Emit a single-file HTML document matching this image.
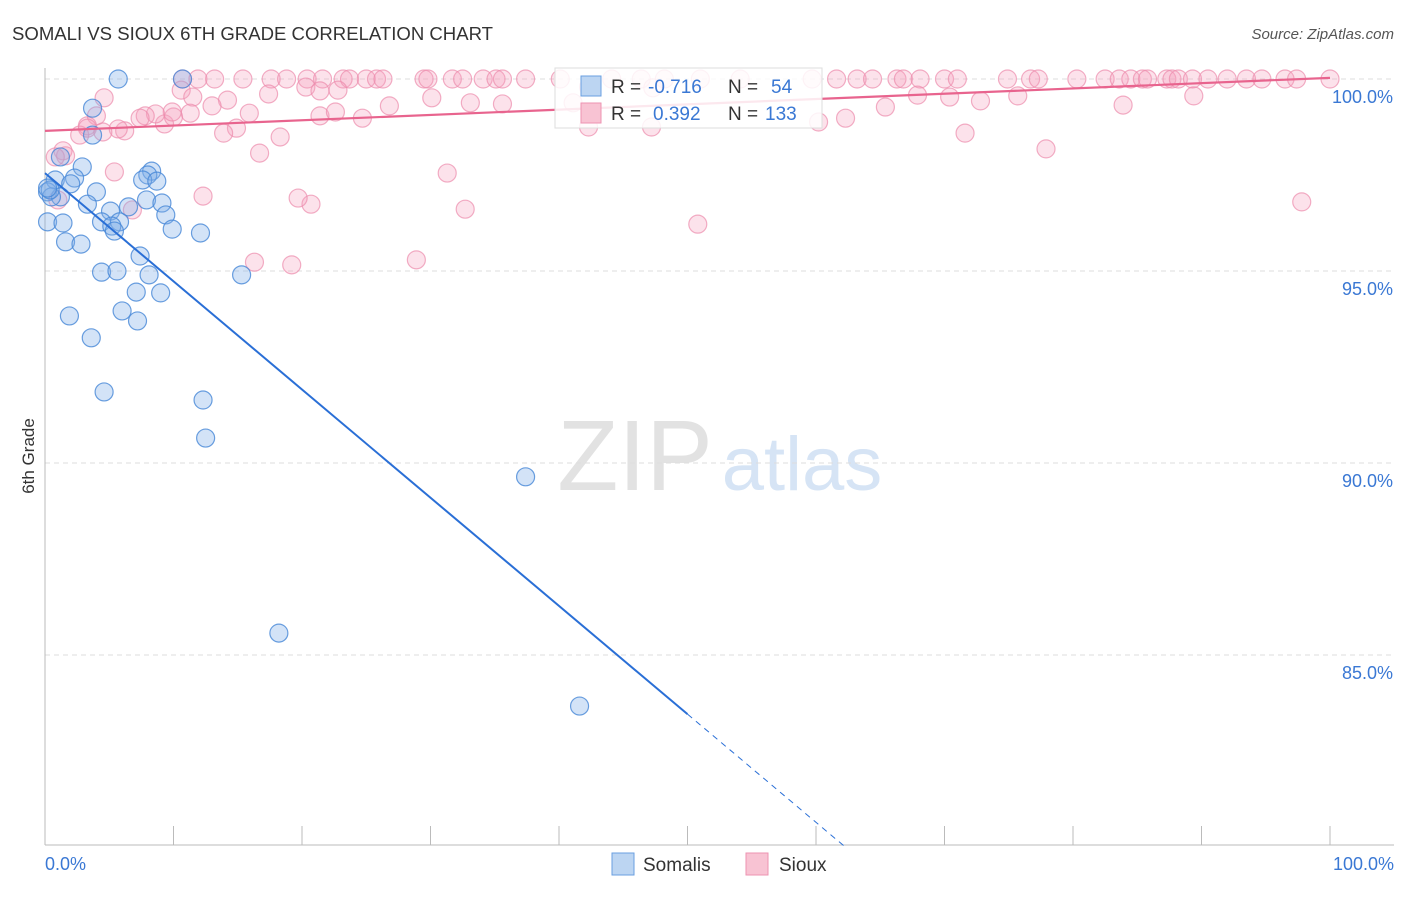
<!DOCTYPE html>
<html><head><meta charset="utf-8"><style>
body{margin:0;background:#fff;font-family:"Liberation Sans",sans-serif;}
svg text{font-family:"Liberation Sans",sans-serif;}
</style></head><body>
<svg id="chart" width="1406" height="892" viewBox="0 0 1406 892" xmlns="http://www.w3.org/2000/svg">
<text x="12" y="40" font-size="18" fill="#333" textLength="481" lengthAdjust="spacingAndGlyphs">SOMALI VS SIOUX 6TH GRADE CORRELATION CHART</text>
<text x="1394" y="39" font-size="15" fill="#555" text-anchor="end" font-style="italic">Source: ZipAtlas.com</text>
<text transform="translate(34,456) rotate(-90)" font-size="17" fill="#333" text-anchor="middle">6th Grade</text>
<g>
<text x="635" y="490" font-size="100" fill="#e2e2e2" text-anchor="middle" font-family="Liberation Serif,serif">ZIP</text>
<text x="802" y="490" font-size="76" fill="#d6e4f5" text-anchor="middle">atlas</text>
</g>
<g id="grid"></g>
<g id="axes"></g>
<g id="points"></g>
<g id="lines"></g>
<g>
<rect x="555" y="68" width="267" height="60" fill="#fff" stroke="#ddd" fill-opacity="0.85"/>
<rect x="581" y="76" width="20" height="20" fill="#bcd5f2" stroke="#6a9fe0"/>
<rect x="581" y="103" width="20" height="20" fill="#f8c3d3" stroke="#ee93b2"/>
<text x="611" y="93" font-size="19" fill="#333">R =</text>
<text x="648" y="93" font-size="19" fill="#3a78d4">-0.716</text>
<text x="728" y="93" font-size="19" fill="#333">N =</text>
<text x="771" y="93" font-size="19" fill="#3a78d4">54</text>
<text x="611" y="120" font-size="19" fill="#333">R =</text>
<text x="653" y="120" font-size="19" fill="#3a78d4">0.392</text>
<text x="728" y="120" font-size="19" fill="#333">N =</text>
<text x="765" y="120" font-size="19" fill="#3a78d4">133</text>
</g>
<g>
<rect x="612" y="853" width="22" height="22" fill="#bcd5f2" stroke="#6a9fe0"/>
<text x="643" y="871" font-size="19" fill="#333">Somalis</text>
<rect x="746" y="853" width="22" height="22" fill="#f8c3d3" stroke="#ee93b2"/>
<text x="779" y="871" font-size="19" fill="#333">Sioux</text>
</g>
</svg>
<script>
const yTicks=[100,95,90,85];
const yTickLabels=["100.0%","95.0%","90.0%","85.0%"];
const xTickLabels=["0.0%","100.0%"];
const somaliX=[5.7,10.7,3.7,3.7,1.2,2.9,8.3,8.0,0.8,2.3,2.0,4.0,7.6,8.7,0.2,1.2,3.3,7.9,9.1,6.5,5.1,9.4,5.8,4.4,5.2,5.4,9.9,12.1,0.2,1.4,1.6,2.8,7.4,4.4,5.6,8.1,15.3,7.1,9.0,1.9,6.0,7.2,3.6,4.6,12.3,12.5,37.4,18.2,41.6,0.5,0.4,0.2];
const somaliY=[100,100,99.24,98.54,97.97,97.71,97.6,97.5,97.37,97.42,97.27,97.06,97.37,97.34,97.06,96.93,96.74,96.85,96.77,96.67,96.56,96.46,96.28,96.28,96.17,96.04,96.09,95.99,96.28,96.25,95.76,95.7,95.39,94.97,95.0,94.9,94.9,94.45,94.43,93.83,93.96,93.7,93.26,91.85,91.64,90.65,89.64,85.57,83.67,96.93,97.11,97.16];
const siouxX=[10.7,11.9,13.2,15.4,17.6,18.8,20.4,21.6,23.2,23.7,25.0,25.8,26.3,29.5,29.8,31.7,32.5,34.1,35.1,35.6,37.4,40.1,44.1,46.4,48.2,51.0,54.1,59.7,61.6,63.2,64.4,66.3,66.8,68.1,70.0,71.0,74.9,76.7,77.3,80.3,82.5,83.6,84.5,85.4,85.8,87.3,87.7,88.2,89.3,90.5,92.0,93.5,94.7,96.5,97.4,100,
10.6,17.4,20.3,21.4,22.8,42.3,47.3,41.1,67.9,70.4,72.8,75.7,89.4,83.9,65.4,62.3,60.2,4.6,11.5,14.2,13.0,15.9,26.8,30.1,33.1,35.6,42.3,47.2,71.6,77.9,97.8,50.8,32.7,31.3,28.9,19.2,16.3,20.7,19.7,12.3,6.8,5.4,18.3,16.7,14.9,13.9,9.3,11.3,10.0,9.9,8.6,7.8,7.4,6.2,5.7,4.0,3.3,2.7,1.4,1.6,0.8,3.3,1.0,4.5,21.4,24.7,22.6];
const siouxY=[100,100,100,100,100,100,100,100,100,100,100,100,100,100,100,100,100,100,100,100,100,100,100,100,100,100,100,100,100,100,100,100,100,100,100,100,100,100,100,100,100,100,100,100,100,100,100,100,100,100,100,100,100,100,100,100,
99.71,99.61,99.79,99.69,99.71,99.79,99.77,99.38,99.58,99.53,99.43,99.56,99.56,99.32,99.27,98.98,98.88,99.51,99.53,99.45,99.30,99.11,99.30,99.51,99.38,99.35,98.75,98.75,98.59,98.18,96.80,96.22,96.61,97.55,95.29,95.16,95.23,96.74,96.90,96.95,96.59,97.58,98.49,98.07,98.72,98.59,98.83,99.11,99.01,99.14,99.09,99.04,98.98,98.65,98.70,99.04,98.78,98.54,98.13,98.0,97.97,98.72,96.85,98.62,99.04,98.98,99.14];
const somaliTrend=[97.55,-0.2818];
const siouxTrend=[98.65,0.0138];

const NS="http://www.w3.org/2000/svg";
const X0=45,X1=1330,Y0=79,PX_PER=38.4,YBOT=845;
function sx(v){return X0+(X1-X0)*v/100;}
function sy(v){return Y0+(100-v)*PX_PER;}
function mk(tag,attrs,parent){const e=document.createElementNS(NS,tag);for(const k in attrs)e.setAttribute(k,attrs[k]);parent.appendChild(e);return e;}
const grid=document.getElementById('grid'),axes=document.getElementById('axes'),pts=document.getElementById('points'),lines=document.getElementById('lines');
yTicks.forEach((t,i)=>{
  const l=mk('line',{x1:X0,x2:1394,y1:sy(t),y2:sy(t),stroke:'#ddd','stroke-dasharray':'5,4'},grid);
  
  
  const tx=mk('text',{x:1393,y:sy(t)+24,'font-size':18,fill:'#3a78d4','text-anchor':'end'},axes);
  tx.textContent=yTickLabels[i];
  
  
});
const ya=mk('line',{x1:X0,x2:X0,y1:68,y2:YBOT,stroke:'#bbb'},axes);


const xa=mk('line',{x1:X0,x2:1394,y1:YBOT,y2:YBOT,stroke:'#bbb'},axes);


for(let i=0;i<=10;i++){
  const t=mk('line',{x1:sx(i*10),x2:sx(i*10),y1:826,y2:YBOT,stroke:'#bbb'},axes);
  
  
}
[[0,'start',45],[100,'end',1394]].forEach((d,i)=>{
  const t=mk('text',{x:d[2],y:870,'font-size':18,fill:'#3a78d4','text-anchor':d[1]},axes);
  t.textContent=xTickLabels[i];
  
  
});
siouxX.forEach((x,i)=>{
  const c=mk('circle',{cx:sx(x),cy:sy(siouxY[i]),r:9,fill:'rgba(244,160,188,0.3)',stroke:'rgba(236,140,172,0.7)','stroke-width':1.2},pts);
  
  
});
somaliX.forEach((x,i)=>{
  const c=mk('circle',{cx:sx(x),cy:sy(somaliY[i]),r:9,fill:'rgba(130,175,232,0.35)',stroke:'rgba(70,135,215,0.8)','stroke-width':1.2},pts);
  
  
});
function tr(t,x){return t[0]+t[1]*x;}
const s1=mk('line',{x1:sx(0),y1:sy(tr(somaliTrend,0)),x2:sx(50),y2:sy(tr(somaliTrend,50)),stroke:'#2a6fd6','stroke-width':2},lines);


const xEnd=(tr(somaliTrend,0)-80)/(-somaliTrend[1]);
const s2=mk('line',{x1:sx(50),y1:sy(tr(somaliTrend,50)),x2:sx(xEnd),y2:sy(80),stroke:'#2a6fd6','stroke-width':1,'stroke-dasharray':'6,5'},lines);


const p1=mk('line',{x1:sx(0),y1:sy(tr(siouxTrend,0)),x2:sx(100),y2:sy(tr(siouxTrend,100)),stroke:'#e8648e','stroke-width':2.2},lines);


</script>
</body></html>
